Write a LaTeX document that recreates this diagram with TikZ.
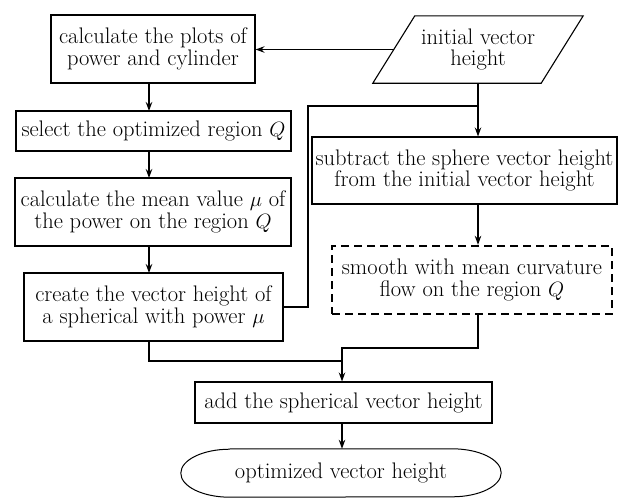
\documentclass[tikz,border=0pt]{standalone}
\usetikzlibrary{arrows.meta,calc}
\begin{document}
\begin{tikzpicture}[x=1pt,y=-1pt,
  every node/.style={font=\fontsize{22.5}{21.5}\selectfont, align=center, inner sep=0pt},
  procbox/.style={draw, line width=1.1pt, minimum width=#1},
  flow/.style={line width=1.2pt},
  arr/.style={flow, -{Stealth[length=9pt,width=6.5pt,inset=3pt]}}]
  % page
  \fill[white] (0,0) rectangle (618,498);
  \useasboundingbox (0,0) rectangle (618,498);

  % left column
  \node[procbox=204pt, minimum height=68pt] (plots) at (153,49)
    {calculate the plots of\\power and cylinder};
  \node[procbox=275pt, minimum height=40pt] (select) at (153.5,131)
    {select the optimized region $Q$};
  \node[procbox=276pt, minimum height=68pt] (mean) at (153,212)
    {calculate the mean value $\mu$ of\\the power on the region $Q$};
  \node[procbox=259pt, minimum height=68pt] (sphere) at (153.5,307)
    {create the vector height of\\a spherical with power $\mu$};

  % input parallelogram
  \node[minimum width=168pt, minimum height=67pt] (init) at (478,49.5)
    {initial vector\\height};
  \draw[line width=1.1pt]
    ($(init.north west)+(21,0)$) -- ($(init.north east)+(21,0)$) --
    ($(init.south east)+(-21,0)$) -- ($(init.south west)+(-21,0)$) -- cycle;

  % right column
  \node[procbox=305pt, minimum height=67pt] (subtract) at (464.5,170.5)
    {subtract the sphere vector height\\from the initial vector height};
  \node[procbox=280pt, minimum height=68pt, line width=2.4pt,
        dash pattern=on 8pt off 5pt] (smooth) at (472,280)
    {smooth with mean curvature\\flow on the region $Q$};

  % merging steps
  \node[procbox=297pt, minimum height=41pt] (add) at (343.5,402.5)
    {add the spherical vector height};
  \node[minimum width=320pt, minimum height=48pt] (result) at (341,473)
    {optimized vector height};
  \draw[line width=1pt]
    ($(result.north west)+(49,0)$) -- ($(result.north east)+(-49,0)$)
    arc[start angle=90, end angle=-90, x radius=49, y radius=-24]
    -- ($(result.south west)+(49,0)$)
    arc[start angle=270, end angle=90, x radius=49, y radius=-24];

  % junction points
  \coordinate (j1) at (478,106);
  \coordinate (j2) at (342,361);
  \coordinate (j3) at (342,348);

  % connectors
  \draw[arr] (init.west) -- (plots.east |- init.west);
  \draw[arr] (149,83) -- (149,111);
  \draw[arr] (149,151) -- (149,178);
  \draw[arr] (149,246) -- (149,273);
  \draw[arr] (init.south -| j1) -- (subtract.north -| j1);
  \draw[flow] (sphere.east) -| (308,106) -- (j1);
  \draw[arr] (subtract.south -| j1) -- (smooth.north -| j1);
  \draw[flow] (smooth.south -| j1) |- (j3) -- (j2);
  \draw[flow] (sphere.south -| 149,0) |- (j2);
  \draw[arr] (j2) -- (add.north -| j2);
  \draw[arr] (add.south -| j2) -- (result.north -| j2);
\end{tikzpicture}
\end{document}
